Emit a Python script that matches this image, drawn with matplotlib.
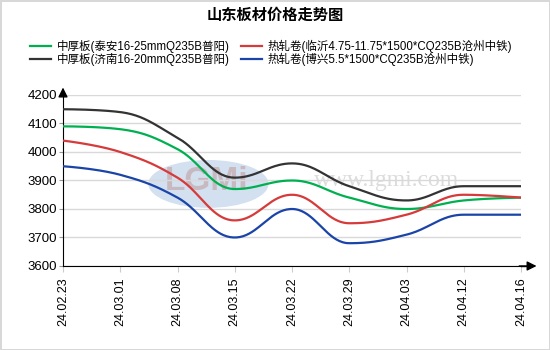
import numpy as np
import matplotlib.pyplot as plt
from matplotlib.patches import Ellipse

plt.rcParams['font.family'] = ['Liberation Sans', 'Noto Sans CJK SC', 'DejaVu Sans']

dates = ["24.02.23", "24.03.01", "24.03.08", "24.03.15", "24.03.22",
         "24.03.29", "24.04.03", "24.04.12", "24.04.16"]

# 中厚板 泰安
taian = [4090, 4080, 4010, 3870, 3900, 3840, 3800, 3830, 3840]
# 中厚板 济南
jinan = [4150, 4140, 4050, 3910, 3960, 3880, 3830, 3880, 3880]
# 热轧卷 临沂
linyi = [4040, 4000, 3910, 3760, 3850, 3750, 3780, 3850, 3840]
# 热轧卷 博兴
boxing = [3950, 3920, 3840, 3700, 3800, 3680, 3710, 3780, 3780]

# legend fills column by column, so this order gives the reference rows
labels = ["中厚板(泰安16-25mmQ235B普阳)", "中厚板(济南16-20mmQ235B普阳)",
          "热轧卷(临沂4.75-11.75*1500*CQ235B沧州中铁)", "热轧卷(博兴5.5*1500*CQ235B沧州中铁)"]
colors = ["#00b050", "#333333", "#d63a3a", "#1a44a8"]


def spline(xs, ys, smoothing=1.5, n=40):
    # highcharts-like bezier smoothing
    xs = np.asarray(xs, float)
    ys = np.asarray(ys, float)
    m = len(xs)
    right = [(xs[i], ys[i]) for i in range(m)]
    left = [(xs[i], ys[i]) for i in range(m)]
    denom = smoothing + 1
    for i in range(1, m - 1):
        lx, ly = xs[i - 1], ys[i - 1]
        nx, ny = xs[i + 1], ys[i + 1]
        px, py = xs[i], ys[i]
        lcx = (smoothing * px + lx) / denom
        lcy = (smoothing * py + ly) / denom
        rcx = (smoothing * px + nx) / denom
        rcy = (smoothing * py + ny) / denom
        if rcx != lcx:
            corr = (rcy - lcy) * (rcx - px) / (rcx - lcx) + py - rcy
            lcy += corr
            rcy += corr
        if lcy > ly and lcy > py:
            lcy = max(ly, py)
            rcy = 2 * py - lcy
        elif lcy < ly and lcy < py:
            lcy = min(ly, py)
            rcy = 2 * py - lcy
        if rcy > ny and rcy > py:
            rcy = max(ny, py)
            lcy = 2 * py - rcy
        elif rcy < ny and rcy < py:
            rcy = min(ny, py)
            lcy = 2 * py - rcy
        left[i] = (lcx, lcy)
        right[i] = (rcx, rcy)
    t = np.linspace(0, 1, n)
    outx, outy = [], []
    for i in range(1, m):
        p0 = (xs[i - 1], ys[i - 1])
        p1 = right[i - 1]
        p2 = left[i]
        p3 = (xs[i], ys[i])
        bx = (1 - t) ** 3 * p0[0] + 3 * (1 - t) ** 2 * t * p1[0] + 3 * (1 - t) * t ** 2 * p2[0] + t ** 3 * p3[0]
        by = (1 - t) ** 3 * p0[1] + 3 * (1 - t) ** 2 * t * p1[1] + 3 * (1 - t) * t ** 2 * p2[1] + t ** 3 * p3[1]
        outx.extend(bx)
        outy.extend(by)
    return np.array(outx), np.array(outy)


fig = plt.figure(figsize=(5.5, 3.5), dpi=100)
fig.patch.set_edgecolor("#d8d8d8")
fig.patch.set_linewidth(2)
ax = fig.add_axes([63 / 550, 1 - 266 / 350, (521 - 63) / 550, (266 - 95) / 350])

x = np.arange(len(dates))

# watermark
ax.add_patch(Ellipse((2.54, 3888), 2.1, 168, facecolor="#d3e0f0", edgecolor="none", zorder=0))
ax.text(2.5, 3895, "LGMi", ha="center", va="center", fontsize=24, fontweight="bold",
        color="#c8b8c0", zorder=0)
ax.text(5.65, 3900, "www.lgmi.com", ha="center", va="center", fontsize=17,
        family="Liberation Serif", color="#dcdcdc", zorder=0)

series = [taian, jinan, linyi, boxing]
for ys, c, lab in zip(series, colors, labels):
    sx, sy = spline(x, ys)
    ax.plot(sx, sy, color=c, lw=1.6, label=lab, zorder=3)

ax.set_xlim(0, len(dates) - 1)
ax.set_ylim(3600, 4200)
ax.set_yticks(range(3600, 4201, 100))
ax.set_xticks(x)
ax.set_xticklabels(dates, rotation=90, fontsize=9)
ax.tick_params(axis="y", labelsize=9.5, length=3, color="#999999", pad=1)
ax.tick_params(axis="x", length=4, color="#cccccc", pad=4)
ax.yaxis.grid(True, color="#d9d9d9", lw=1)
ax.set_axisbelow(True)
for s in ["top", "right"]:
    ax.spines[s].set_visible(False)
ax.spines["left"].set_color("black")
ax.spines["bottom"].set_color("black")

# axis arrows
ax.annotate("", xy=(1.04, 0), xytext=(0.99, 0), xycoords="axes fraction",
            arrowprops=dict(arrowstyle="-|>", color="black", lw=1, mutation_scale=14), annotation_clip=False)
ax.annotate("", xy=(0, 1.06), xytext=(0, 0.99), xycoords="axes fraction",
            arrowprops=dict(arrowstyle="-|>", color="black", lw=1, mutation_scale=14), annotation_clip=False)
ax.plot([1, 1.01], [0, 0], transform=ax.transAxes, color="black", lw=1, clip_on=False)

fig.text(0.5, 1 - 16 / 350, "山东板材价格走势图", ha="center", va="center", fontsize=11, fontweight="bold")

fig.legend(loc="upper center", bbox_to_anchor=(0.493, 0.9), ncol=2, frameon=False,
           fontsize=8.3, handlelength=1.85, columnspacing=0.95, handletextpad=0.5,
           labelspacing=0.0, borderaxespad=0)

fig.savefig("out.png", dpi=100)
